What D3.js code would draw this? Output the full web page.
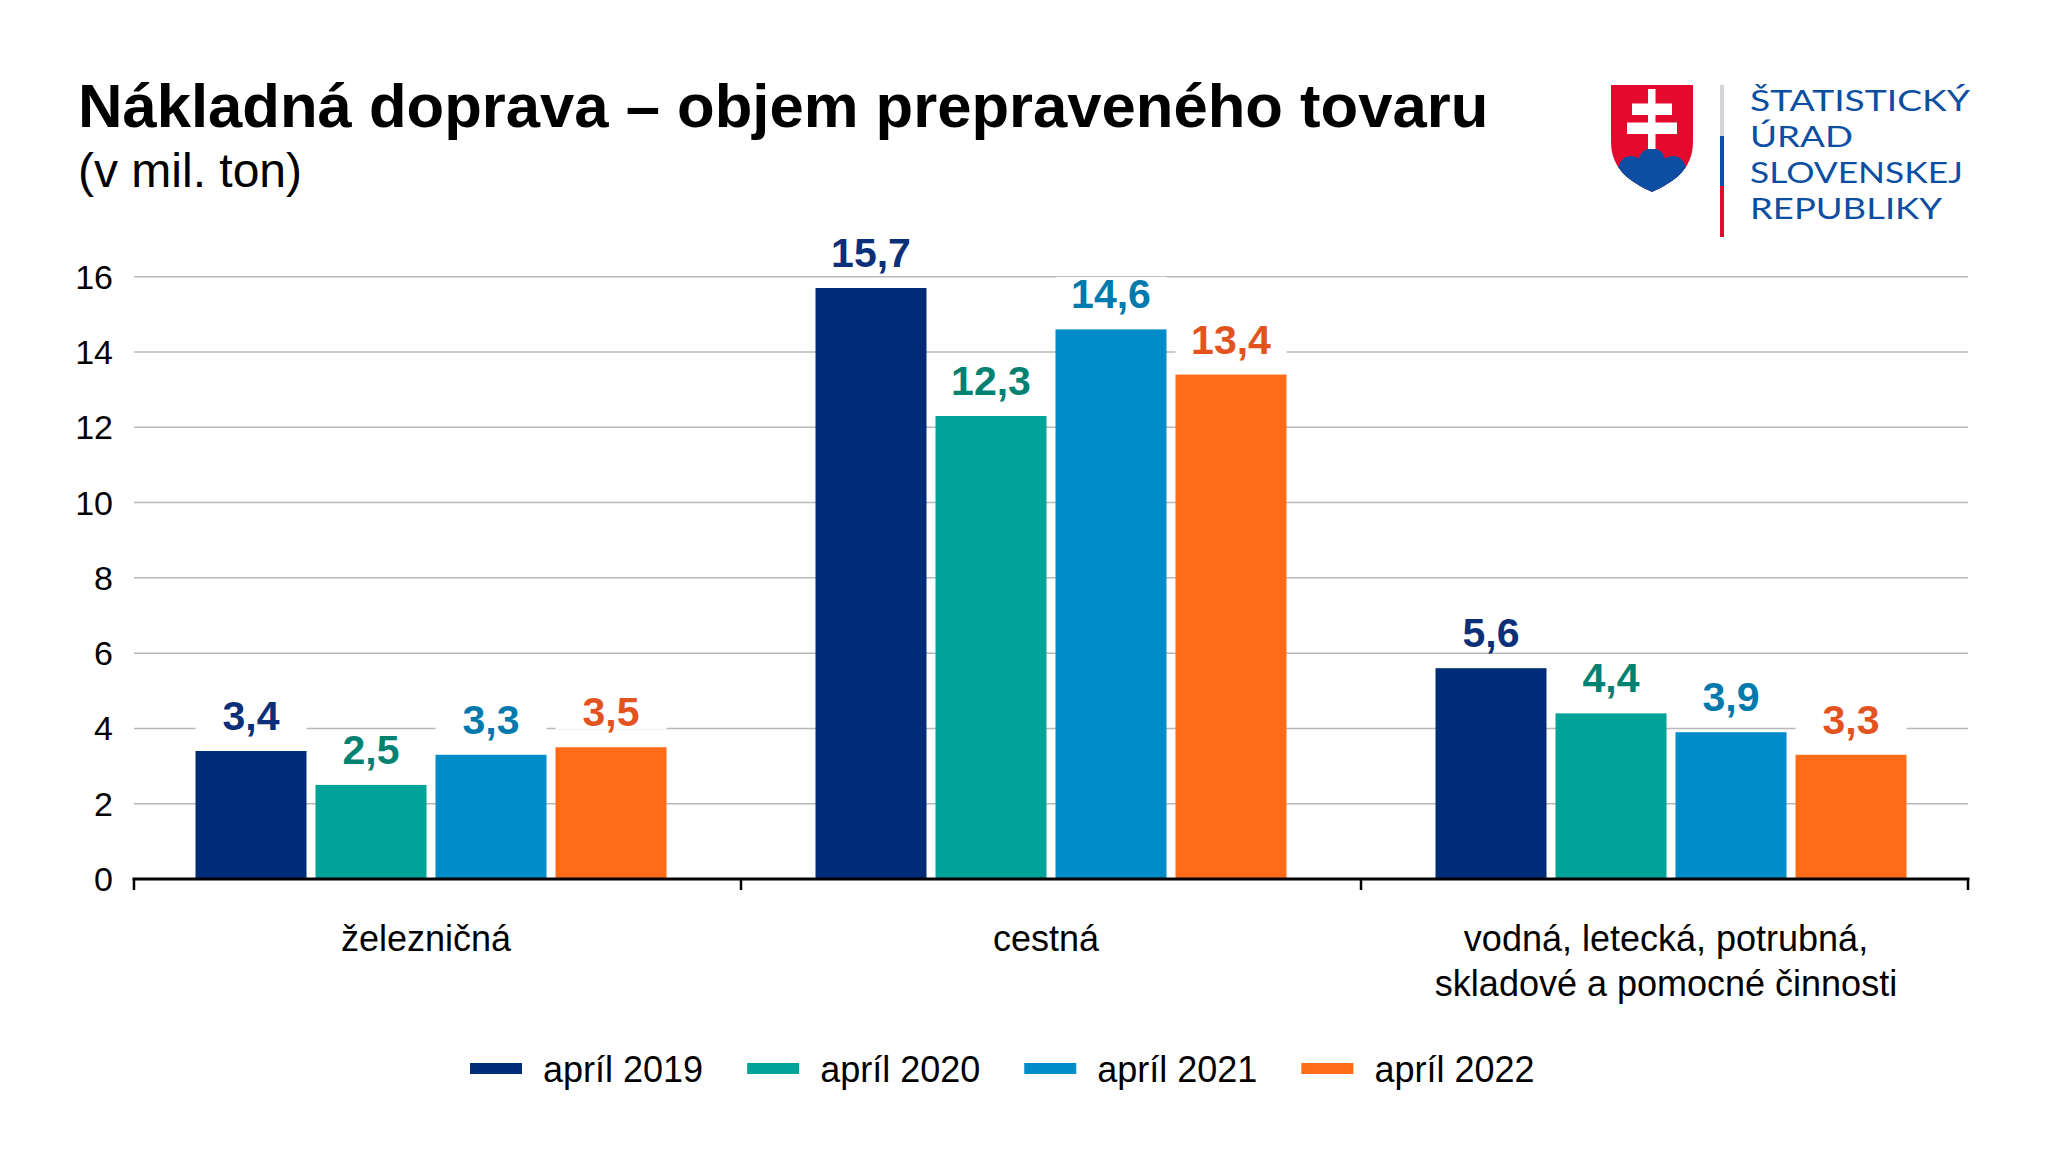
<!DOCTYPE html>
<html>
<head>
<meta charset="utf-8">
<script src="https://cdn.jsdelivr.net/npm/d3@7"></script>
<style>
  html, body { margin: 0; padding: 0; background: #fff; }
  svg { display: block; }
  text { font-family: "Liberation Sans", Arial, sans-serif; }
</style>
</head>
<body>
<svg id="chart" width="2048" height="1164"></svg>
<script>
// ---- data ----
const categories = ["železničná", "cestná", "vodná, letecká, potrubná, skladové a pomocné činnosti"];
const categoryLines = [["železničná"], ["cestná"], ["vodná, letecká, potrubná,", "skladové a pomocné činnosti"]];
const series = ["apríl 2019", "apríl 2020", "apríl 2021", "apríl 2022"];
const values2019 = [3.4, 15.7, 5.6];
const values2020 = [2.5, 12.3, 4.4];
const values2021 = [3.3, 14.6, 3.9];
const values2022 = [3.5, 13.4, 3.3];
const yTicks = [0, 2, 4, 6, 8, 10, 12, 14, 16];
const barColors = ["#002C77", "#00A398", "#008CC8", "#FF6B17"];
const labelColors = ["#0B2F78", "#008272", "#0079AC", "#E2531F"];

const title = "Nákladná doprava – objem prepraveného tovaru";
const subtitle = "(v mil. ton)";
const logoLines = ["ŠTATISTICKÝ", "ÚRAD", "SLOVENSKEJ", "REPUBLIKY"];

const seriesValues = [values2019, values2020, values2021, values2022];

// ---- layout ----
const svg = d3.select("#chart");
const plotLeft = 134, plotRight = 1968, plotTop = 276.7, plotBottom = 879;

const y = d3.scaleLinear().domain([0, 16]).range([plotBottom, plotTop]);
const x0 = d3.scaleBand().domain(categories).range([121, 1981]);
const groupW = 471;
const x1 = d3.scaleBand().domain(series)
  .range([(x0.bandwidth() - groupW) / 2, (x0.bandwidth() + groupW) / 2])
  .paddingInner(0.075);

const fmt = v => d3.format(".1f")(v).replace(".", ",");

// title
svg.append("text").attr("x", 78).attr("y", 127)
  .attr("font-size", 61.6).attr("font-weight", "bold").attr("fill", "#000")
  .text(title);
svg.append("text").attr("x", 78).attr("y", 187)
  .attr("font-size", 48).attr("fill", "#000")
  .text(subtitle);

// gridlines
svg.append("g").selectAll("line").data(yTicks.filter(d => d > 0)).join("line")
  .attr("x1", plotLeft).attr("x2", plotRight)
  .attr("y1", d => y(d)).attr("y2", d => y(d))
  .attr("stroke", "#b8b8b8").attr("stroke-width", 1.5);

// y tick labels
svg.append("g").selectAll("text").data(yTicks).join("text")
  .attr("x", 113).attr("y", d => y(d) + 12)
  .attr("text-anchor", "end").attr("font-size", 34).attr("fill", "#000")
  .text(d => d);

// bars
const groups = svg.append("g").selectAll("g").data(categories).join("g")
  .attr("transform", c => `translate(${x0(c)},0)`);

const cells = groups.selectAll("g.cell")
  .data((c, ci) => series.map((s, si) => ({ s, si, v: seriesValues[si][ci] })))
  .join("g").attr("class", "cell");

cells.append("rect")
  .attr("x", d => x1(d.s)).attr("width", x1.bandwidth())
  .attr("y", d => y(d.v)).attr("height", d => y(0) - y(d.v))
  .attr("fill", d => barColors[d.si]);

// label backgrounds (white boxes interrupting gridlines)
const gap = 21;
cells.append("rect")
  .attr("x", d => x1(d.s)).attr("width", x1.bandwidth())
  .attr("y", d => y(d.v) - gap - 31.5).attr("height", 34.5)
  .attr("fill", "#fff");

cells.append("text")
  .attr("x", d => x1(d.s) + x1.bandwidth() / 2)
  .attr("y", d => y(d.v) - gap)
  .attr("text-anchor", "middle").attr("font-size", 41).attr("font-weight", "bold")
  .attr("fill", d => labelColors[d.si])
  .text(d => fmt(d.v));

// x axis
svg.append("line").attr("x1", plotLeft - 1.5).attr("x2", plotRight + 1.5)
  .attr("y1", plotBottom).attr("y2", plotBottom)
  .attr("stroke", "#000").attr("stroke-width", 3);
const tickXs = [plotLeft, ...categories.slice(1).map(c => x0(c)), plotRight];
svg.append("g").selectAll("line").data(tickXs).join("line")
  .attr("x1", d => d).attr("x2", d => d)
  .attr("y1", plotBottom).attr("y2", plotBottom + 11)
  .attr("stroke", "#000").attr("stroke-width", 2.5);

// category labels
const catG = svg.append("g").selectAll("text").data(categories).join("text")
  .attr("text-anchor", "middle").attr("font-size", 36).attr("fill", "#000");
catG.selectAll("tspan").data((c, i) => categoryLines[i].map(l => ({ l, c }))).join("tspan")
  .attr("x", d => x0(d.c) + x0.bandwidth() / 2 - 5)
  .attr("y", (d, i) => 951 + i * 44.5)
  .text(d => d.l);

// legend
const legend = svg.append("g");
let cx = 470;
series.forEach((s, i) => {
  legend.append("rect").attr("x", cx).attr("y", 1063).attr("width", 52).attr("height", 11)
    .attr("fill", barColors[i]);
  const t = legend.append("text").attr("x", cx + 73).attr("y", 1082)
    .attr("font-size", 36).attr("fill", "#000").text(s);
  cx += 73 + t.node().getComputedTextLength() + 44;
});

// logo
const logo = svg.append("g");
const shieldPath = "M1611,85 H1693 V142 C1693,170 1672,183 1652,192 C1632,183 1611,170 1611,142 Z";
const defs = svg.append("defs");
defs.append("clipPath").attr("id", "shieldClip").append("path").attr("d", shieldPath);
logo.append("path").attr("d", shieldPath).attr("fill", "#E30A2E");
const hills = logo.append("g").attr("clip-path", "url(#shieldClip)");
hills.append("circle").attr("cx", 1631).attr("cy", 168.5).attr("r", 12.5).attr("fill", "#0B4EA2");
hills.append("circle").attr("cx", 1673).attr("cy", 168.5).attr("r", 12.5).attr("fill", "#0B4EA2");
hills.append("circle").attr("cx", 1652).attr("cy", 161.5).attr("r", 13.3).attr("fill", "#0B4EA2");
hills.append("rect").attr("x", 1605).attr("y", 167).attr("width", 95).attr("height", 30).attr("fill", "#0B4EA2");
// double cross
logo.append("rect").attr("x", 1648).attr("y", 89).attr("width", 7.5).attr("height", 60).attr("fill", "#fff");
logo.append("rect").attr("x", 1632).attr("y", 103.5).attr("width", 40).attr("height", 11.5).attr("fill", "#fff");
logo.append("rect").attr("x", 1627).attr("y", 122.5).attr("width", 50).attr("height", 11.5).attr("fill", "#fff");
// separator
logo.append("rect").attr("x", 1720).attr("y", 85).attr("width", 4).attr("height", 51).attr("fill", "#D3D5D8");
logo.append("rect").attr("x", 1720).attr("y", 136).attr("width", 4).attr("height", 50).attr("fill", "#0B4EA2");
logo.append("rect").attr("x", 1720).attr("y", 186).attr("width", 4).attr("height", 51).attr("fill", "#E30A2E");
const logoWidths = [220, 103, 213, 192];
logoLines.forEach((l, i) => {
  logo.append("text").attr("x", 1750).attr("y", 111 + i * 36.1)
    .attr("font-size", 29.5).attr("fill", "#0B4EA2")
    .style("font-family", "Lato, sans-serif")
    .attr("textLength", logoWidths[i]).attr("lengthAdjust", "spacingAndGlyphs")
    .text(l);
});
</script>
</body>
</html>
